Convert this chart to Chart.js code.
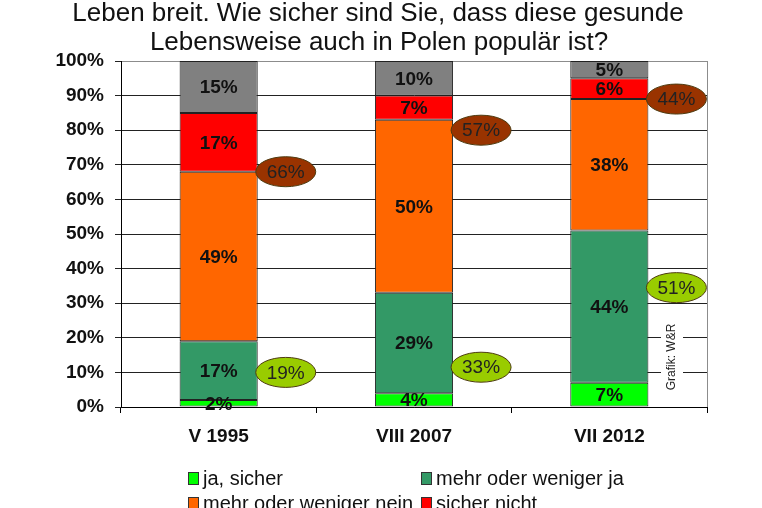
<!DOCTYPE html>
<html lang="de">
<head>
<meta charset="UTF-8">
<title>Gesunde Lebensweise in Polen</title>
<script src="https://cdn.jsdelivr.net/npm/chart.js@4.4.0/dist/chart.umd.min.js"></script>
<style>
  html, body { margin: 0; padding: 0; background: #fff; }
  #wrap { width: 762px; height: 508px; overflow: hidden; }
</style>
</head>
<body>
<div id="wrap"><canvas id="chart" width="762" height="508"></canvas></div>
<script>
// Data
const titleLines = ['Leben breit. Wie sicher sind Sie, dass diese gesunde', 'Lebensweise auch in Polen populär ist?'];
const periods = ['V 1995', 'VIII 2007', 'VII 2012'];
const jaSicher = [2, 4, 7];
const eherJa = [17, 29, 44];
const eherNein = [49, 50, 38];
const sicherNicht = [17, 7, 6];
const schwerZuSagen = [15, 10, 5];
const sumJa = [19, 33, 51];
const sumNein = [66, 57, 44];
const seriesLabels = ['ja, sicher', 'mehr oder weniger ja', 'mehr oder weniger nein', 'sicher nicht', 'schwer zu sagen'];
const credit = 'Grafik: W&R';

const colors = ['#00ff00', '#339966', '#ff6600', '#ff0000', '#808080'];
const FONT = '"Liberation Sans", Arial, sans-serif';

// where the bubbles sit on the value axis
const bubbleJaAt = [10, 11.5, 34.5];
const bubbleNeinAt = [68, 80, 89];

function bubble(ctx, x, y, text, fill) {
    ctx.save();
    ctx.beginPath();
    ctx.ellipse(x, y, 30, 15, 0, 0, Math.PI * 2);
    ctx.fillStyle = fill;
    ctx.fill();
    ctx.lineWidth = 1;
    ctx.strokeStyle = '#4d3b10';
    ctx.stroke();
    ctx.fillStyle = '#222';
    ctx.font = '19px ' + FONT;
    ctx.textAlign = 'center';
    ctx.textBaseline = 'middle';
    ctx.fillText(text, x, y + 1);
    ctx.restore();
}

const overlay = {
    id: 'overlay',
    afterDatasetsDraw(chart) {
        const ctx = chart.ctx;
        // segment labels
        chart.data.datasets.forEach((ds, di) => {
            chart.getDatasetMeta(di).data.forEach((bar, i) => {
                ctx.save();
                ctx.font = 'bold 19px ' + FONT;
                ctx.fillStyle = '#111';
                ctx.textAlign = 'center';
                ctx.textBaseline = 'middle';
                ctx.fillText(ds.data[i] + '%', bar.x, (bar.y + bar.base) / 2 + 1);
                ctx.restore();
            });
        });
        // sum bubbles
        const ys = chart.scales.y;
        const bars = chart.getDatasetMeta(0).data;
        bars.forEach((b, i) => {
            const cx = b.x + b.width / 2 + 28;
            bubble(ctx, cx, ys.getPixelForValue(bubbleNeinAt[i]), sumNein[i] + '%', '#993300');
            bubble(ctx, cx, ys.getPixelForValue(bubbleJaAt[i]), sumJa[i] + '%', '#99cc00');
        });
        // credit, rotated
        ctx.save();
        ctx.translate(672, 357);
        ctx.rotate(-Math.PI / 2);
        ctx.fillStyle = '#fff';
        ctx.fillRect(-37, -11, 74, 22);
        ctx.fillStyle = '#222';
        ctx.font = '12px ' + FONT;
        ctx.textAlign = 'center';
        ctx.textBaseline = 'middle';
        ctx.fillText(credit, 0, 0);
        ctx.restore();
    },
    afterDraw(chart) {
        const ctx = chart.ctx;
        // title
        ctx.save();
        ctx.fillStyle = '#111';
        ctx.font = '26px ' + FONT;
        ctx.textAlign = 'center';
        ctx.textBaseline = 'alphabetic';
        ctx.fillText(titleLines[0], 378, 21);
        ctx.fillText(titleLines[1], 379, 50);
        ctx.restore();
        // legend in two columns
        ctx.save();
        ctx.font = '20px ' + FONT;
        ctx.textBaseline = 'middle';
        seriesLabels.forEach((lab, i) => {
            const x = i % 2 === 0 ? 188 : 421;
            const y = 478 + Math.floor(i / 2) * 25;
            ctx.fillStyle = colors[i];
            ctx.fillRect(x, y - 6, 11, 13);
            ctx.strokeStyle = '#333';
            ctx.lineWidth = 1;
            ctx.strokeRect(x + 0.5, y - 5.5, 10, 12);
            ctx.fillStyle = '#111';
            ctx.fillText(lab, x + 15, y + 1);
        });
        ctx.restore();
    }
};

const series = [jaSicher, eherJa, eherNein, sicherNicht, schwerZuSagen];

new Chart(document.getElementById('chart'), {
    type: 'bar',
    data: {
        labels: periods,
        datasets: series.map((vals, i) => ({
            label: seriesLabels[i],
            data: vals,
            backgroundColor: colors[i],
            borderColor: '#222',
            borderWidth: 1,
            borderSkipped: false,
            categoryPercentage: 0.8,
            barPercentage: 0.5
        }))
    },
    options: {
        responsive: false,
        animation: false,
        layout: { padding: { top: 61, right: 55, left: 0, bottom: 0 } },
        plugins: {
            legend: { display: false },
            tooltip: { enabled: false },
            title: { display: false }
        },
        scales: {
            x: {
                stacked: true,
                grid: {
                    color: c => c.tick ? 'rgba(0,0,0,0)' : '#8c8c8c',
                    tickColor: '#000',
                    tickLength: 6
                },
                border: { color: '#000' },
                ticks: { font: { family: FONT, size: 19, weight: 'bold' }, color: '#111', padding: 12 },
                afterFit: s => { s.height = 101; }
            },
            y: {
                stacked: true,
                min: 0,
                max: 100,
                ticks: {
                    stepSize: 10,
                    callback: v => v + '%',
                    font: { family: FONT, size: 19, weight: 'bold' },
                    color: '#111',
                    padding: 11
                },
                grid: {
                    color: c => c.tick && c.tick.value === 100 ? '#8c8c8c' : '#222',
                    tickColor: '#222',
                    tickLength: 6
                },
                border: { color: '#000' },
                afterFit: s => { s.width = 121; }
            }
        }
    },
    plugins: [overlay]
});
</script>
</body>
</html>
